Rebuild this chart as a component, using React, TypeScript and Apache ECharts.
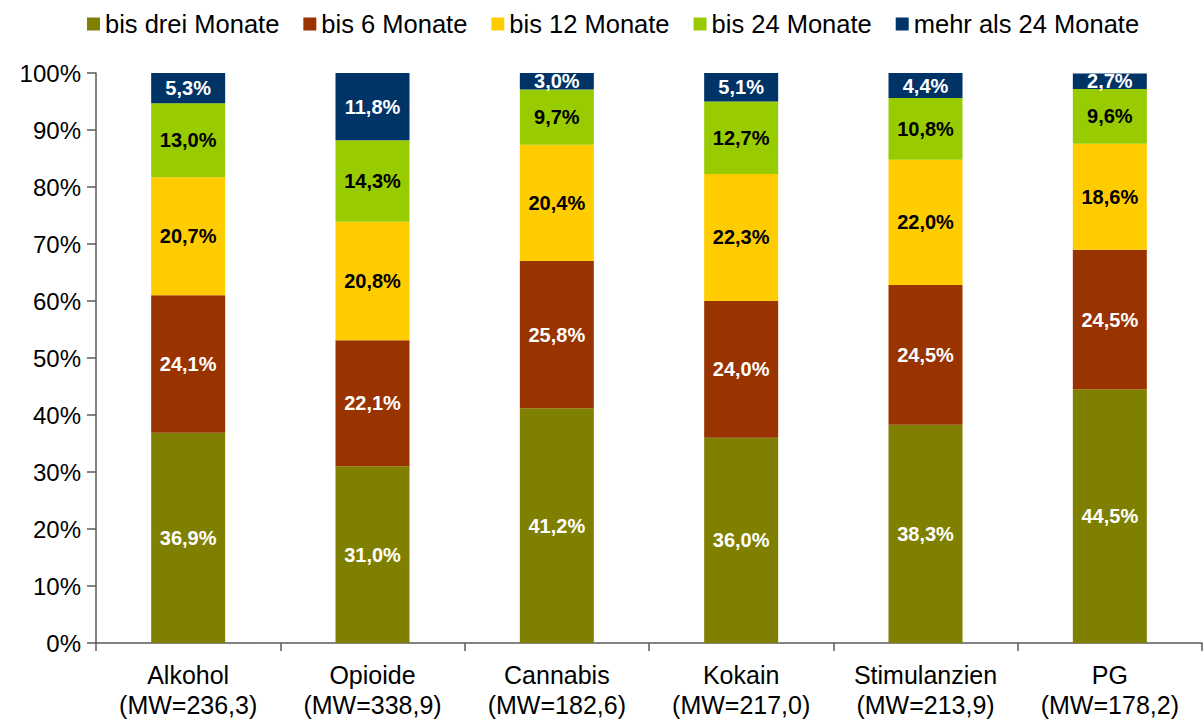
import React, { useEffect, useRef } from "react";
import * as echarts from "echarts";

const categories = [
  "Alkohol\n(MW=236,3)",
  "Opioide\n(MW=338,9)",
  "Cannabis\n(MW=182,6)",
  "Kokain\n(MW=217,0)",
  "Stimulanzien\n(MW=213,9)",
  "PG\n(MW=178,2)",
];
const seriesNames = [
  "bis drei Monate",
  "bis 6 Monate",
  "bis 12 Monate",
  "bis 24 Monate",
  "mehr als 24 Monate",
];
const bisDrei = [36.9, 31.0, 41.2, 36.0, 38.3, 44.5];
const bis6 = [24.1, 22.1, 25.8, 24.0, 24.5, 24.5];
const bis12 = [20.7, 20.8, 20.4, 22.3, 22.0, 18.6];
const bis24 = [13.0, 14.3, 9.7, 12.7, 10.8, 9.6];
const mehr24 = [5.3, 11.8, 3.0, 5.1, 4.4, 2.7];
const colors = ["#808000", "#993300", "#FFCC00", "#99CC00", "#003366"];
const labelColors = ["#ffffff", "#ffffff", "#000000", "#000000", "#ffffff"];

const FONT = "'Liberation Sans', Arial, sans-serif";
const AXIS_COLOR = "#5a5a5a";

export default function App() {
  const ref = useRef<HTMLDivElement>(null);
  useEffect(() => {
    if (!ref.current) return;
    const chart = echarts.init(ref.current, undefined, { renderer: "svg" });
    const data = [bisDrei, bis6, bis12, bis24, mehr24];
    chart.setOption({
      animation: false,
      textStyle: { fontFamily: FONT },
      legend: {
        top: 6,
        left: 82,
        itemWidth: 13,
        itemHeight: 13,
        itemGap: 24,
        icon: "rect",
        textStyle: { fontSize: 25.5, color: "#000", fontFamily: FONT },
        data: seriesNames,
      },
      grid: {
        left: 96,
        right: 1,
        top: 73,
        bottom: 76,
        containLabel: false,
      },
      xAxis: {
        type: "category",
        data: categories,
        axisLine: { lineStyle: { color: AXIS_COLOR, width: 1.5 } },
        axisTick: { show: true, length: 8, lineStyle: { color: AXIS_COLOR, width: 1.5 } },
        axisLabel: {
          interval: 0,
          fontSize: 25,
          color: "#000",
          lineHeight: 30,
          margin: 17,
          fontFamily: FONT,
        },
      },
      yAxis: {
        type: "value",
        min: 0,
        max: 100,
        interval: 10,
        splitLine: { show: false },
        axisLine: { show: true, lineStyle: { color: AXIS_COLOR, width: 1.5 } },
        axisTick: { show: true, length: 9, lineStyle: { color: AXIS_COLOR, width: 1.5 } },
        axisLabel: {
          fontSize: 24,
          color: "#000",
          margin: 15,
          fontFamily: FONT,
          formatter: (v: number) => v + "%",
        },
      },
      series: seriesNames.map((name, i) => ({
        name,
        type: "bar",
        stack: "total",
        barWidth: 74,
        data: data[i],
        itemStyle: { color: colors[i] },
        label: {
          show: true,
          position: "inside",
          color: labelColors[i],
          fontWeight: "bold",
          fontSize: 20,
          fontFamily: FONT,
          formatter: (p: any) => p.value.toFixed(1).replace(".", ",") + "%",
        },
      })),
    });
    return () => chart.dispose();
  }, []);
  return (
    <div
      ref={ref}
      style={{ position: "absolute", left: 0, top: 0, width: 1203, height: 720 }}
    />
  );
}
